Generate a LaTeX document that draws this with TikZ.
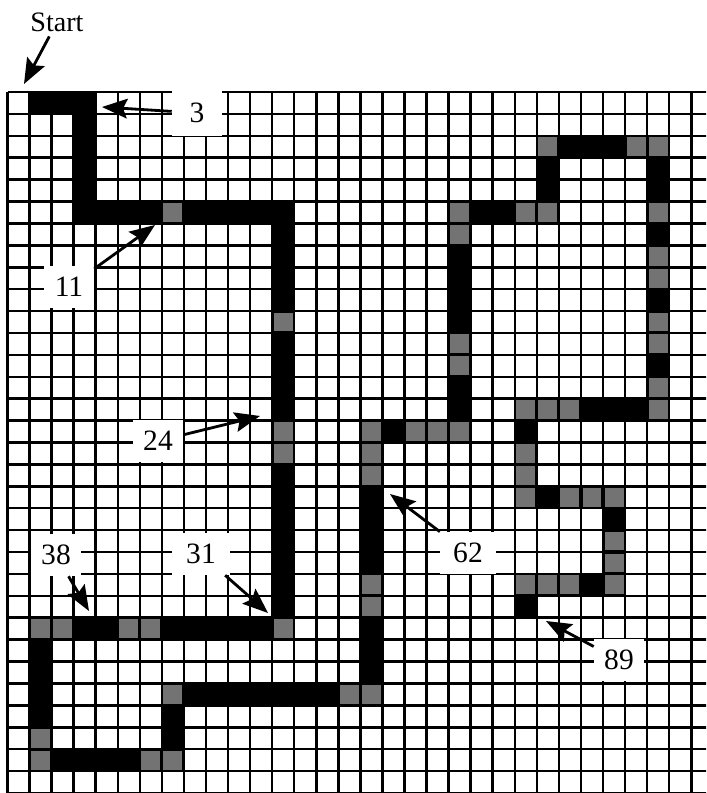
\documentclass[tikz,border=0pt]{standalone}
\usepackage{fontspec}
\setmainfont{Liberation Serif}
\usetikzlibrary{arrows.meta}

\begin{document}
\begin{tikzpicture}[x=0.025cm, y=-0.025cm,
  gridline/.style={line width=1.8pt},
  walk/.style={fill=black},
  visit/.style={fill=black!55},
  tag/.style={fill=white, inner sep=0pt, minimum width=1.25cm, minimum height=1.05cm, font=\fontsize{21}{24}\selectfont},
  arr/.style={-{Stealth[length=18pt,width=14pt,inset=3pt]}, line width=2pt}
]
  \useasboundingbox (0,0) rectangle (706,793);
  \fill[white] (0,0) rectangle (706,793);
  \begin{scope}
    \clip (0,0) rectangle (706,793);
    \begin{scope}[shift={(7.5,92)}, x=0.55125cm, y=-0.5475cm]
      \foreach \i in {0,...,32} {
        \draw[gridline] (\i,0) -- (\i,32);
        \draw[gridline] (0,\i) -- (32,\i);
      }
      % path, one rectangle per straight run
      \foreach \xa/\ya/\xb/\yb in {1/0/4/1, 3/0/4/6, 3/5/13/6, 12/5/13/25, 1/24/13/25, 1/24/2/31,
          1/30/8/31, 7/27/8/31, 7/27/17/28, 16/15/17/28, 16/15/21/16, 20/5/21/16, 20/5/25/6,
          24/2/25/6, 24/2/30/3, 29/2/30/15, 23/14/30/15, 23/14/24/19, 23/18/28/19, 27/18/28/23,
          23/22/28/23, 23/22/24/24}
        \fill[walk] (\xa,\ya) rectangle (\xb,\yb);
      % shaded cells
      \foreach \cx/\ry in {7/5, 12/10, 12/15, 12/16, 12/24, 1/24, 2/24, 5/24, 6/24, 1/29, 1/30,
          6/30, 7/30, 7/27, 15/27, 16/27, 16/22, 16/23, 16/15, 16/16, 16/17, 18/15, 19/15, 20/15,
          20/11, 20/12, 20/5, 20/6, 23/5, 24/5, 24/2, 28/2, 29/2, 29/5, 29/7, 29/8, 29/10, 29/11,
          29/13, 29/14, 23/14, 24/14, 25/14, 23/16, 23/17, 23/18, 25/18, 26/18, 27/18, 27/20,
          27/21, 27/22, 25/22, 24/22, 23/22}
        \fill[visit] (\cx+0.07,\ry+0.07) rectangle (\cx+0.93,\ry+0.93);
    \end{scope}
  \end{scope}

  \node[font=\fontsize{20}{24}\selectfont] (start) at (57,22) {Start};
  \node[tag, minimum height=1.15cm] (n3) at (197,113) {3};
  \node[tag] (n11) at (69,287) {11};
  \node[tag] (n24) at (158,441) {24};
  \node[tag, minimum width=1.45cm] (n31) at (201,554) {31};
  \node[tag] (n38) at (56,555) {38};
  \node[tag, minimum width=1.4cm] (n62) at (468,553) {62};
  \node[tag] (n89) at (619,660) {89};

  \coordinate (tstart) at (24,84);
  \coordinate (t3) at (102,107);
  \coordinate (t11) at (155,225);
  \coordinate (t24) at (260,416);
  \coordinate (t31) at (268,613);
  \coordinate (t38) at (89,611);
  \coordinate (t62) at (390,494);
  \coordinate (t89) at (546,621);

  \draw[arr] (start) -- (tstart);
  \draw[arr] (n3) -- (t3);
  \draw[arr] (n11) -- (t11);
  \draw[arr] (n24) -- (t24);
  \draw[arr] (n31) -- (t31);
  \draw[arr] (n38) -- (t38);
  \draw[arr] (n62) -- (t62);
  \draw[arr] (n89) -- (t89);
\end{tikzpicture}
\end{document}
